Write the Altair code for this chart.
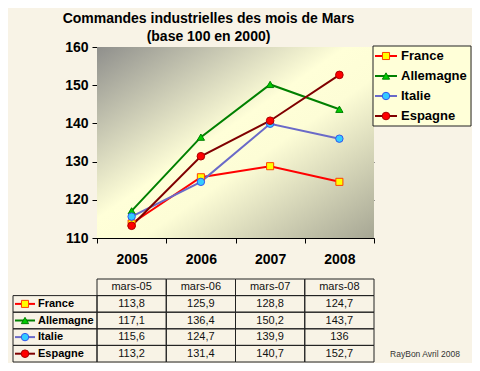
import altair as alt
import pandas as pd

# ---- data ----
annees = ["2005", "2006", "2007", "2008"]
mois = ["mars-05", "mars-06", "mars-07", "mars-08"]
pays = ["France", "Allemagne", "Italie", "Espagne"]
france = [113.8, 125.9, 128.8, 124.7]
allemagne = [117.1, 136.4, 150.2, 143.7]
italie = [115.6, 124.7, 139.9, 136.0]
espagne = [113.2, 131.4, 140.7, 152.7]
y_ticks = [110, 120, 130, 140, 150, 160]

series = dict(zip(pays, [france, allemagne, italie, espagne]))

line_colors = ["#ff0000", "#008000", "#6a6ac8", "#800000"]
fill_colors = ["#ffff00", "#00cc00", "#33ccff", "#ff0000"]
stroke_colors = ["#ff4000", "#008000", "#3355ee", "#aa0000"]
shapes = ["square", "triangle-up", "circle", "circle"]
sizes = [50, 58, 36, 45]

FONT = "Liberation Sans"

def fmt(v):
    return f"{v:g}".replace(".", ",")

rows = []
for p in pays:
    for a, v in zip(annees, series[p]):
        rows.append({"Pays": p, "Annee": a, "Valeur": v, "Row": p, "Texte": fmt(v)})
df = pd.DataFrame(rows)

hdr = pd.DataFrame({"Annee": annees, "Row": ["hdr"] * 4, "Texte": mois})
cells = pd.concat([hdr, df[["Annee", "Row", "Texte"]]], ignore_index=True)
pays_df = pd.DataFrame({"Pays": pays})
one = pd.DataFrame({"k": [0]})

# ---- shared scales ----
xscale = alt.Scale(type="band", domain=annees, paddingInner=0, paddingOuter=0)
color_s = alt.Scale(domain=pays, range=line_colors)
fill_s = alt.Scale(domain=pays, range=fill_colors)
stroke_s = alt.Scale(domain=pays, range=stroke_colors)
shape_s = alt.Scale(domain=pays, range=shapes)
size_s = alt.Scale(domain=pays, range=sizes)

def marker_enc(**kw):
    return dict(
        shape=alt.Shape("Pays:N", scale=shape_s, legend=None),
        fill=alt.Fill("Pays:N", scale=fill_s, legend=None),
        stroke=alt.Stroke("Pays:N", scale=stroke_s, legend=None),
        size=alt.Size("Pays:N", scale=size_s, legend=None),
        **kw,
    )

# ---- plot group ----
yscale = alt.Scale(domain=[110, 160], nice=False, zero=False)
grad = alt.LinearGradient(
    gradient="linear", x1=0, y1=0, x2=1, y2=1,
    stops=[
        alt.GradientStop(offset=0, color="#8f8f8c"),
        alt.GradientStop(offset=0.45, color="#ffffd8"),
        alt.GradientStop(offset=0.58, color="#fdfdd6"),
        alt.GradientStop(offset=1, color="#a6a694"),
    ],
)
bg = alt.Chart(one).mark_rect(color=grad).encode(
    x=alt.value(0), x2=alt.value("width"), y=alt.value(0), y2=alt.value("height")
)

base = alt.Chart(df).encode(
    x=alt.X("Annee:N", scale=xscale, sort=annees, title=None,
            axis=alt.Axis(tickBand="extent", labelFont=FONT, labelFontSize=14,
                          labelFontWeight="bold", labelColor="#000", labelAngle=0,
                          labelPadding=9, tickSize=5, tickColor="#000",
                          domainColor="#000", grid=False)),
    y=alt.Y("Valeur:Q", scale=yscale, title=None,
            axis=alt.Axis(values=y_ticks, grid=True, gridColor="#333",
                          gridWidth=1, labelFont=FONT, labelFontSize=14,
                          labelFontWeight="bold", labelColor="#000",
                          tickSize=5, tickColor="#000", domainColor="#000",
                          labelPadding=4)),
)
lines = base.mark_line(strokeWidth=2).encode(
    color=alt.Color("Pays:N", scale=color_s, legend=None),
    detail="Pays:N",
)
points = base.mark_point(filled=True, strokeWidth=1, opacity=1).encode(**marker_enc())
plot = alt.layer(bg, lines, points)

# ---- legend group ----
ley = alt.Scale(type="band", domain=pays, range=[-1, 79], paddingInner=0, paddingOuter=0)
lbox = alt.Chart(one).mark_rect(fill="#ffffd8", stroke="#222", strokeWidth=1).encode(
    x=alt.value(276), x2=alt.value(374), y=alt.value(-1), y2=alt.value(79)
)
lrule = alt.Chart(pays_df).mark_rule(strokeWidth=2).encode(
    x=alt.value(278), x2=alt.value(300),
    y=alt.Y("Pays:N", scale=ley, axis=None, sort=pays),
    color=alt.Color("Pays:N", scale=color_s, legend=None),
)
lpts = alt.Chart(pays_df).mark_point(filled=True, strokeWidth=1, opacity=1).encode(
    **marker_enc(x=alt.value(289), y=alt.Y("Pays:N", scale=ley, axis=None, sort=pays))
)
ltxt = alt.Chart(pays_df).mark_text(
    align="left", baseline="middle", font=FONT, fontSize=13, fontWeight="bold", color="#000"
).encode(
    x=alt.value(304), y=alt.Y("Pays:N", scale=ley, axis=None, sort=pays), text="Pays:N"
)
legend = alt.layer(lbox, lrule, lpts, ltxt)

# ---- table group ----
rowdom = ["hdr"] + pays
ty = alt.Scale(type="band", domain=rowdom, range=[232, 315], paddingInner=0, paddingOuter=0)
tyenc = alt.Y("Row:N", scale=ty, axis=None, sort=rowdom)
tcells = alt.Chart(cells).mark_rect(fill="#ffffff", fillOpacity=0.0, stroke="#222", strokeWidth=1).encode(
    x=alt.X("Annee:N", scale=xscale, sort=annees), y=tyenc
)
ttext = alt.Chart(cells).mark_text(
    font=FONT, fontSize=11, color="#111", baseline="middle"
).encode(x=alt.X("Annee:N", scale=xscale, sort=annees), y=tyenc, text="Texte:N")

lab = pays_df.assign(Row=pays_df["Pays"])
tlab = alt.Chart(lab).mark_rect(fill="#ffffff", fillOpacity=0.0, stroke="#222", strokeWidth=1).encode(
    x=alt.value(-84), x2=alt.value(0), y=tyenc
)
tlrule = alt.Chart(lab).mark_rule(strokeWidth=2).encode(
    x=alt.value(-82), x2=alt.value(-62), y=tyenc,
    color=alt.Color("Pays:N", scale=color_s, legend=None),
)
tlpts = alt.Chart(lab).mark_point(filled=True, strokeWidth=1, opacity=1).encode(
    **marker_enc(x=alt.value(-72), y=tyenc)
)
tltxt = alt.Chart(lab).mark_text(
    align="left", baseline="middle", font=FONT, fontSize=11, fontWeight="bold", color="#000"
).encode(x=alt.value(-59), y=tyenc, text="Pays:N")
footer = alt.Chart(pd.DataFrame({"t": ["RayBon Avril 2008"]})).mark_text(
    font=FONT, fontSize=8.5, color="#333", align="center", baseline="middle"
).encode(x=alt.value(328), y=alt.value(307), text="t:N")
table = alt.layer(tcells, ttext, tlab, tlrule, tlpts, tltxt, footer)

chart = alt.layer(plot, legend, table).resolve_scale(y="independent").properties(
    width=277,
    height=191,
    autosize=alt.AutoSizeParams(type="none"),
    padding={"left": 89, "top": 39, "right": 98, "bottom": 125},
    background="#f8f3e6",
    title=alt.TitleParams(
        text=["Commandes industrielles des mois de Mars", "(base 100 en 2000)"],
        font=FONT, fontSize=14, fontWeight="bold", color="#000",
        anchor="middle", dx=-27, dy=8, offset=4, lineHeight=18,
    ),
).configure_view(stroke=None)

chart.save("out.html", embed_options={"renderer": "svg", "actions": False})
